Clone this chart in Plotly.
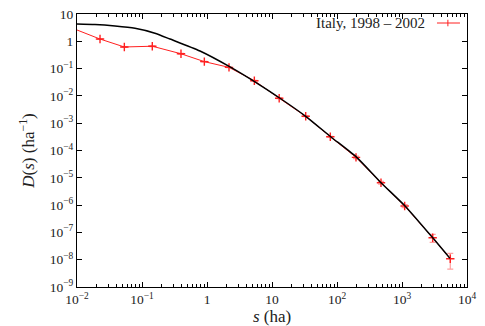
import plotly.graph_objects as go

# measured fire size distribution (red crosses with error bars)
fire_s = [0.008, 0.0226, 0.0535, 0.144, 0.398, 0.91, 2.18, 5.35, 12.9, 33.0, 78.9, 196, 475, 1099, 2965, 5530]
fire_D = [3.2, 1.21, 0.62, 0.66, 0.35, 0.18, 0.111, 0.036, 0.0082, 1.79e-3, 3.2e-4, 5.6e-5, 6.6e-6, 9.3e-7, 6.4e-8, 1.08e-8]
fire_err = [0.05, 0.03, 0.02, 0.02, 0.01, 0.005, 0.003, 8e-4, 2e-4, 5e-5, 1e-5, 6e-6, 8e-7, 1.2e-7, 2.1e-8, 6.3e-9]

# fitted curve (black)
fit_s = [0.01, 0.0189, 0.0385, 0.078, 0.158, 0.27, 0.78, 2.26, 6.53, 13.3, 33, 80, 201, 475, 1112, 2924, 5470]
fit_D = [4.31, 4.12, 3.63, 2.99, 1.98, 1.21, 0.44, 0.115, 0.025, 8.2e-3, 1.79e-3, 3.2e-4, 5.6e-5, 6.6e-6, 9.3e-7, 6.6e-8, 1.12e-8]

legend_label = "Italy, 1998 \u2013 2002"

x_tickvals = [1e-2, 1e-1, 1, 10, 1e2, 1e3, 1e4]
x_ticktext = ["10<sup>\u22122</sup>", "10<sup>\u22121</sup>", "1", "10", "10<sup>2</sup>", "10<sup>3</sup>", "10<sup>4</sup>"]
y_tickvals = [1e-9, 1e-8, 1e-7, 1e-6, 1e-5, 1e-4, 1e-3, 1e-2, 1e-1, 1, 10]
y_ticktext = ["10<sup>\u2212%d</sup>" % k for k in range(9, 0, -1)] + ["1", "10"]

red = "#ff2020"
pink = "rgba(255,80,80,0.55)"

fig = go.Figure()
fig.add_trace(go.Scatter(
    x=fire_s, y=fire_D, mode="lines+markers", name=legend_label,
    line=dict(color=red, width=1),
    marker=dict(symbol="cross-thin", size=6, line=dict(color=red, width=1.4)),
    error_y=dict(type="data", array=fire_err, color=pink, thickness=1.2, width=3),
    showlegend=False,
))
fig.add_trace(go.Scatter(
    x=fit_s, y=fit_D, mode="lines",
    line=dict(color="black", width=1.5, shape="spline", smoothing=0.6),
    showlegend=False,
))

font = "Liberation Serif"
txt = "#222"
axis_common = dict(
    type="log", showgrid=False, zeroline=False, showline=True, linecolor="black",
    linewidth=1, mirror="ticks", ticks="inside", ticklen=5, tickcolor="black",
    tickfont=dict(family=font, size=13.5, color=txt), automargin=False,
)
fig.update_xaxes(
    range=[-2, 4], tickvals=x_tickvals, ticktext=x_ticktext,
    minor=dict(ticks="inside", ticklen=3, tickcolor="black", dtick="D1"),
    title=dict(text="<i>s</i> (ha)", font=dict(family=font, size=17, color=txt), standoff=2),
    **axis_common,
)
fig.update_yaxes(
    range=[-9, 1], tickvals=y_tickvals, ticktext=y_ticktext,
    title=dict(text="<i>D</i>(<i>s</i>) (ha<sup>\u22121</sup>)", font=dict(family=font, size=17, color=txt), standoff=10),
    **axis_common,
)

# gnuplot style key: text on the left, sample on the right
fig.add_annotation(xref="paper", yref="paper", x=0.898, y=0.967, xanchor="right", yanchor="middle",
                   text=legend_label, showarrow=False, font=dict(family=font, size=15, color=txt))
fig.add_shape(type="line", xref="paper", yref="paper", x0=0.923, x1=0.982, y0=0.967, y1=0.967,
              line=dict(color=red, width=1))
fig.add_shape(type="line", xref="paper", yref="paper", x0=0.951, x1=0.951, y0=0.955, y1=0.979,
              line=dict(color=red, width=1))

fig.update_layout(
    width=485, height=326,
    margin=dict(l=77, r=18, t=14, b=39),
    plot_bgcolor="white", paper_bgcolor="white",
)
# drop the default page margin so the figure sits at the window corner
fig.write_html("out.html", config={"displayModeBar": False},
               post_script="document.body.style.margin='0';")
